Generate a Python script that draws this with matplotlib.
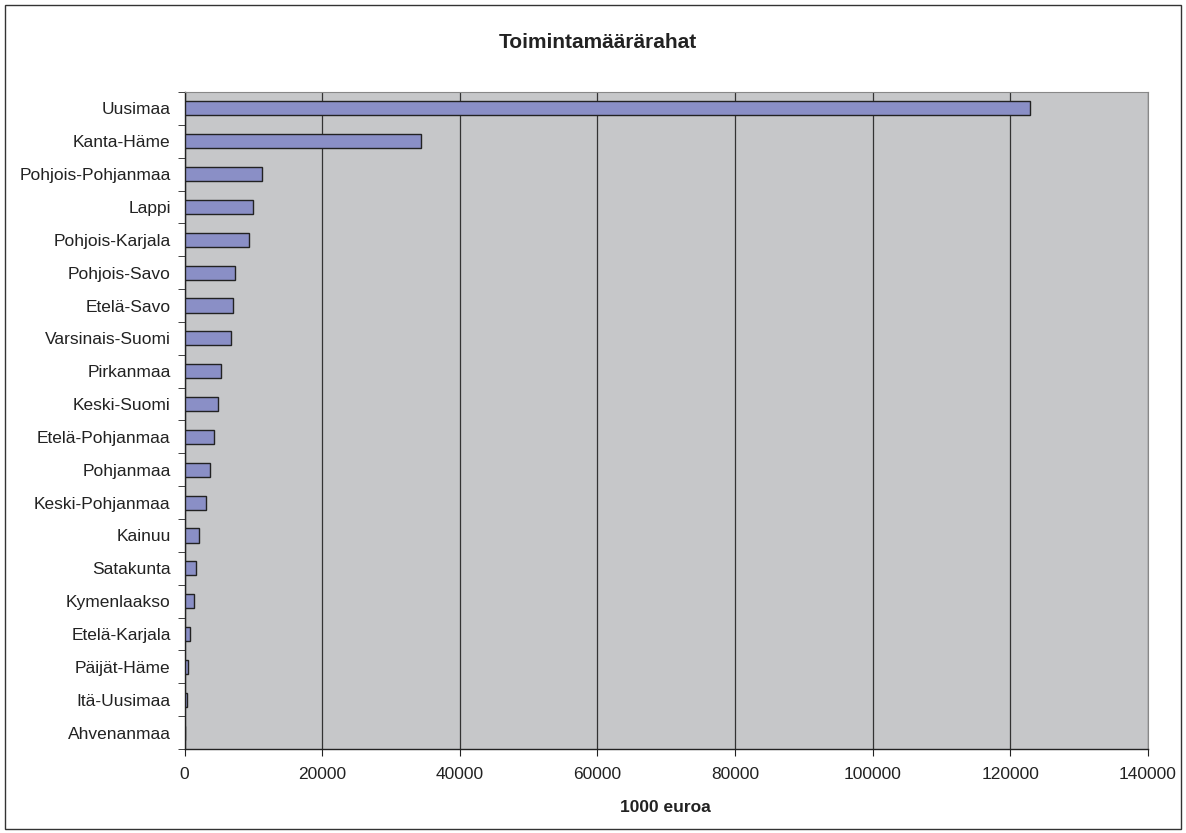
import matplotlib.pyplot as plt
from matplotlib.patches import Rectangle
import numpy as np

plt.rcParams['font.family'] = ['Liberation Sans', 'DejaVu Sans']

regions = ['Uusimaa', 'Kanta-Häme', 'Pohjois-Pohjanmaa', 'Lappi', 'Pohjois-Karjala',
           'Pohjois-Savo', 'Etelä-Savo', 'Varsinais-Suomi', 'Pirkanmaa', 'Keski-Suomi',
           'Etelä-Pohjanmaa', 'Pohjanmaa', 'Keski-Pohjanmaa', 'Kainuu', 'Satakunta',
           'Kymenlaakso', 'Etelä-Karjala', 'Päijät-Häme', 'Itä-Uusimaa', 'Ahvenanmaa']
values = [122800, 34370, 11250, 9890, 9310, 7360, 6980, 6780, 5230, 4890,
          4260, 3680, 3100, 2130, 1690, 1350, 770, 530, 340, 0]
xticks = [0, 20000, 40000, 60000, 80000, 100000, 120000, 140000]

fig = plt.figure(figsize=(11.86, 8.33), dpi=100)
ax = fig.add_axes([0.1556, 0.1008, 0.968 - 0.1556, 0.8896 - 0.1008])

# outer frame like the spreadsheet chart area
fig.patches.append(Rectangle((5 / 1186, 4 / 833), 1176 / 1186, 824 / 833,
                             transform=fig.transFigure, fill=False,
                             edgecolor='#333333', linewidth=1.0))

n = len(regions)
y = np.arange(n)
ax.set_facecolor('#C6C7C9')
ax.barh(y, values, height=0.43, color='#8A8FC6', edgecolor='#222222', linewidth=1.0, zorder=3)
ax.set_ylim(n - 0.5, -0.5)
ax.set_xlim(0, 140000)

ax.set_yticks(y)
ax.set_yticklabels(regions, fontsize=12.5, color='#222222')
ax.set_yticks(np.arange(n + 1) - 0.5, minor=True)
ax.tick_params(axis='y', which='major', length=0, pad=10)
ax.tick_params(axis='y', which='minor', length=5, direction='out', color='#222222')

ax.set_xticks(xticks)
ax.set_xticklabels([str(v) for v in xticks], fontsize=12.5, color='#222222')
ax.tick_params(axis='x', length=5, direction='out', color='#222222', pad=8)

ax.grid(axis='x', color='#333333', linewidth=0.9, zorder=1)
ax.set_axisbelow(True)

for s in ['top', 'right']:
    ax.spines[s].set_color('#888888')
for s in ['left', 'bottom']:
    ax.spines[s].set_color('#222222')
    ax.spines[s].set_linewidth(1.0)

fig.text(598 / 1186, 1 - 42 / 833, 'Toimintamäärärahat', fontsize=15, fontweight='bold',
         ha='center', va='center', color='#222222')
fig.text(665 / 1186, 1 - 808 / 833, '1000 euroa', fontsize=12.5, fontweight='bold',
         ha='center', va='center', color='#222222')

fig.savefig('out.png', dpi=100)
